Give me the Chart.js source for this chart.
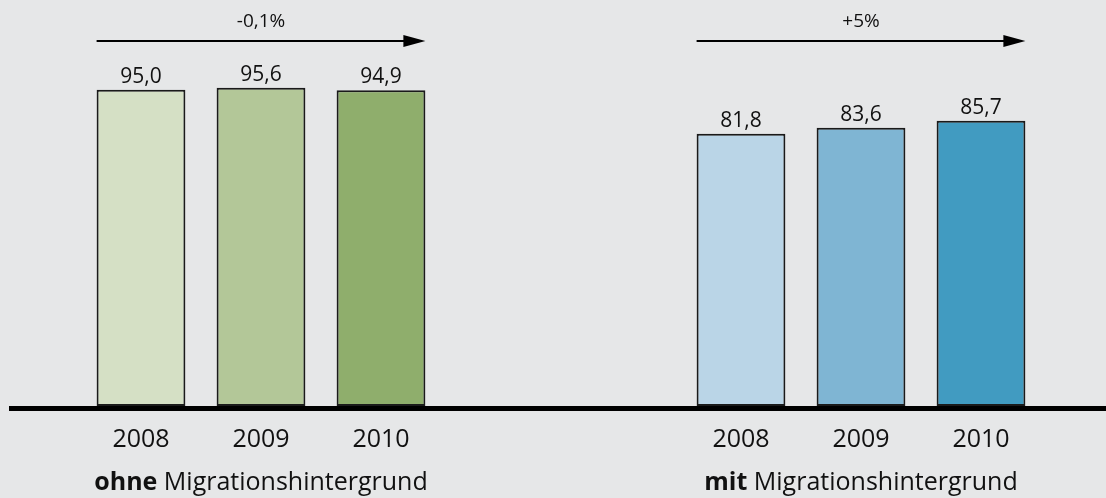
<!DOCTYPE html>
<html>
<head>
<meta charset="utf-8">
<script src="https://cdn.jsdelivr.net/npm/chart.js@4/dist/chart.umd.min.js"></script>
<style>
  html, body { margin: 0; padding: 0; background: #e6e7e8; }
  #wrap { position: relative; width: 1106px; height: 498px; }
</style>
</head>
<body>
<div id="wrap"><canvas id="chart" width="1106" height="498"></canvas></div>
<script>
// data
const years = ['2008', '2009', '2010', '', '', '2008', '2009', '2010'];
const values = [95.0, 95.6, 94.9, null, null, 81.8, 83.6, 85.7];
const valueLabels = ['95,0', '95,6', '94,9', '', '', '81,8', '83,6', '85,7'];
const barColors = ['#d5e0c5', '#b3c798', '#8fae6c', 'transparent', 'transparent', '#bad5e7', '#7fb5d3', '#419bc1'];
const groupBold = ['ohne', 'mit'];
const groupRest = [' Migrationshintergrund', ' Migrationshintergrund'];
const groupIdx = [[0, 2], [5, 7]];   // first/last bar of each group
const changes = ['-0,1%', '+5%'];

const FONT = '"Open Sans", "Noto Sans", sans-serif';
const INK = '#111';

/* labels above bars, arrows, baseline, group titles */
const decorations = {
  id: 'decorations',
  afterDatasetsDraw(chart) {
    const ctx = chart.ctx;
    const meta = chart.getDatasetMeta(0);
    const area = chart.chartArea;
    ctx.save();
    // value labels
    ctx.fillStyle = INK;
    ctx.font = '21px ' + FONT;
    ctx.textAlign = 'center';
    ctx.textBaseline = 'alphabetic';
    meta.data.forEach((bar, i) => {
      if (values[i] == null) return;
      ctx.fillText(valueLabels[i], bar.x, bar.y - 7);
    });
    // baseline
    ctx.fillStyle = '#000';
    ctx.fillRect(9, area.bottom, chart.width - 9, 5);
    // arrows + change text
    groupIdx.forEach((g, k) => {
      const a = meta.data[g[0]], b = meta.data[g[1]];
      const x0 = a.x - a.width / 2, x1 = b.x + b.width / 2;
      const y = 41;
      ctx.strokeStyle = '#000';
      ctx.lineWidth = 2;
      ctx.beginPath();
      ctx.moveTo(x0, y);
      ctx.lineTo(x1 - 18, y);
      ctx.stroke();
      ctx.fillStyle = '#000';
      ctx.beginPath();
      ctx.moveTo(x1 - 22, y - 6);
      ctx.lineTo(x1, y);
      ctx.lineTo(x1 - 22, y + 6);
      ctx.closePath();
      ctx.fill();
      ctx.fillStyle = INK;
      ctx.font = '19px ' + FONT;
      ctx.textAlign = 'center';
      ctx.fillText(changes[k], (x0 + x1) / 2, 27);
      // group title
      const cx = meta.data[g[0] + 1].x;
      ctx.font = 'bold 25px ' + FONT;
      const wb = ctx.measureText(groupBold[k]).width;
      ctx.font = '25px ' + FONT;
      const wr = ctx.measureText(groupRest[k]).width;
      const left = cx - (wb + wr) / 2;
      ctx.textAlign = 'left';
      ctx.font = 'bold 25px ' + FONT;
      ctx.fillText(groupBold[k], left, 490);
      ctx.font = '25px ' + FONT;
      ctx.fillText(groupRest[k], left + wb, 490);
    });
    ctx.restore();
  }
};

new Chart(document.getElementById('chart'), {
  type: 'bar',
  data: {
    labels: years,
    datasets: [{
      data: values,
      backgroundColor: barColors,
      borderColor: '#1a1a1a',
      borderWidth: 2,
      borderSkipped: false,
      categoryPercentage: 1,
      barPercentage: 0.74
    }]
  },
  options: {
    responsive: false,
    animation: false,
    layout: { padding: { left: 81, right: 65, top: 0, bottom: 0 } },
    plugins: { legend: { display: false }, tooltip: { enabled: false } },
    scales: {
      x: {
        grid: { display: false, drawTicks: false },
        border: { display: false },
        ticks: {
          color: INK,
          font: { family: FONT, size: 25 },
          padding: 19,
          maxRotation: 0,
          autoSkip: false
        },
        afterFit(scale) { scale.height = 92; }
      },
      y: {
        display: false,
        min: 0,
        max: 122
      }
    }
  },
  plugins: [decorations]
});
</script>
</body>
</html>
